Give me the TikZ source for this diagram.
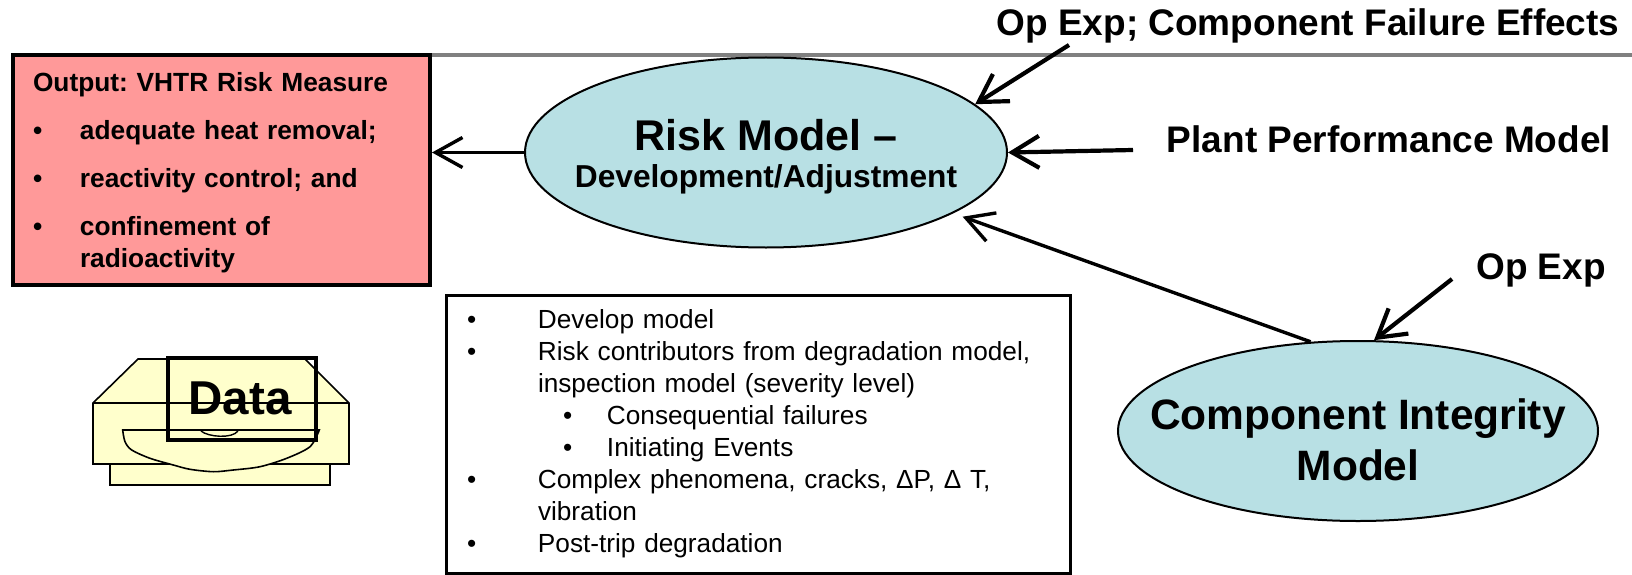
\documentclass[tikz,border=0pt]{standalone}
\usepackage{fontspec}
\setmainfont{Liberation Sans}
\usetikzlibrary{arrows.meta,shapes.geometric}
\definecolor{riskred}{HTML}{FF9999}
\definecolor{ellblue}{HTML}{B8E0E4}
\definecolor{datayel}{HTML}{FFFFCC}
\newcommand{\bul}[2][71pt]{\makebox[#1][l]{•}#2}
\tikzset{
  modelell/.style={ellipse,draw=black,line width=2pt,fill=ellblue,inner sep=0pt},
  elltext/.style={font=\bfseries,anchor=base,inner sep=0pt},
  heavy/.style={-{Straight Barb[length=27pt,width=32pt]},line width=4.2pt,black},
  lighter/.style={-{Straight Barb[length=27pt,width=30pt]},line width=3.4pt,black},
  toplabel/.style={font=\fontsize{37}{44}\selectfont\bfseries,anchor=base,inner sep=0pt},
  dataline/.style={draw=black,line width=1.6pt,fill=datayel},
}
\begin{document}
\frenchspacing
\begin{tikzpicture}[x=1pt,y=-1pt]
\useasboundingbox (0,0) rectangle (1632,575);
\fill[white] (0,0) rectangle (1632,575);

% red output box
\node[draw=black,line width=4pt,fill=riskred,minimum width=417pt,minimum height=230pt,inner xsep=20pt,inner ysep=0pt,
  text width=377pt,align=left,font=\fontsize{26.3}{32}\selectfont\bfseries] (out) at (221.5,170)
  {\rule{0pt}{24pt}Output: VHTR Risk Measure\\[16pt]
   \bul[47pt]{adequate heat removal;}\\[16pt]
   \bul[47pt]{reactivity control; and}\\[16pt]
   \bul[47pt]{confinement of}\\
   \hspace*{47pt}radioactivity};
\coordinate (ruleb) at (1632,55);
\draw[line width=3.5pt,gray] (out.north east |- ruleb) -- (ruleb);

% ellipses
\node[modelell,minimum width=482pt,minimum height=190pt] (risk) at (766,152.5) {};
\node[elltext,font=\fontsize{43}{50}\selectfont\bfseries] (risktitle) at (766,150) {Risk Model –};
\node[elltext,font=\fontsize{31.7}{38}\selectfont\bfseries] (risksub) at (766,187) {Development/Adjustment};
\node[modelell,minimum width=480pt,minimum height=180pt] (comp) at (1358,431) {};
\node[elltext,font=\fontsize{42.5}{50}\selectfont\bfseries] (comptitle) at (1358,429) {Component Integrity};
\node[elltext,font=\fontsize{42.5}{50}\selectfont\bfseries] (compsub) at (1358,480) {Model};

% text box
\node[draw=black,line width=3pt,fill=white,minimum width=624pt,minimum height=278pt,inner xsep=21pt,inner ysep=0pt,
  text width=582pt,align=left,font=\fontsize{26.2}{32}\selectfont] (bullets) at (758,434)
  {\bul{Develop model}\\
   \bul{Risk contributors from degradation model,}\\
   \hspace*{71pt}inspection model (severity level)\\
   \hspace*{96pt}\bul[44pt]{Consequential failures}\\
   \hspace*{96pt}\bul[44pt]{Initiating Events}\\
   \bul{Complex phenomena, cracks, ΔP, Δ T,}\\
   \hspace*{71pt}vibration\\
   \bul{Post-trip degradation}};

% labels
\node[toplabel] (failure) at (1308,36) {Op Exp; Component Failure Effects};
\node[toplabel] (plant) at (1389,152) {Plant Performance Model};
\node[toplabel] (opexp) at (1541,279) {Op Exp};

% data symbol
\draw[dataline] (110,464) rectangle (330,485);
\draw[dataline] (93,403) -- (138,359) -- (305,359) -- (349,403) -- (349,464) -- (93,464) -- cycle;
\draw[line width=1.4pt] (93,403) -- (349,403);
\draw[dataline] plot[smooth,tension=0.5] coordinates {(122.7,430) (125,441.7) (131.7,450) (150,458.3) (173.3,465) (190,469.3) (213.3,471.7) (233.3,470) (260,466.7) (286.7,458.3) (310,446.7) (319.3,430)} -- cycle;
\draw[line width=1.4pt] (201,431) .. controls (208,437) and (232,439) .. (238,431);
\node[draw=black,line width=4pt,minimum width=148pt,minimum height=82pt,inner sep=0pt,font=\fontsize{47.5}{56}\selectfont\bfseries] (data) at (242,399) {\hspace*{-4pt}\raisebox{2pt}{Data}};

% connectors
\coordinate (failstart) at (1069,45);
\coordinate (plantstart) at (1133,150);
\coordinate (opstart) at (1452,279);
\draw[heavy] (failstart) -- (risk.13.5);
\draw[heavy] (plantstart) -- (risk.east);
\draw[lighter] (risk.west) -- (out.east |- risk.west);
\draw[lighter,shorten >=10pt] (comp.118) -- (risk.-18);
\draw[heavy] (opstart) -- (comp.80);
\end{tikzpicture}
\end{document}
